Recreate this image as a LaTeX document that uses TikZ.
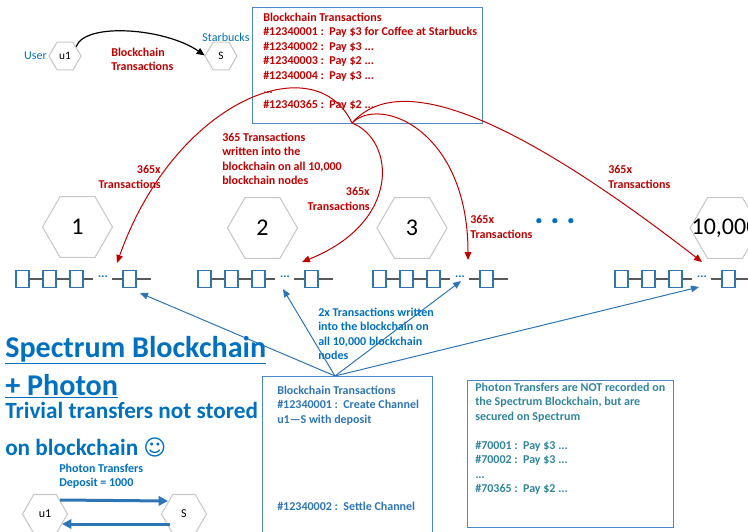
\documentclass[tikz,border=0pt]{standalone}
\usepackage{fontspec}
\setmainfont{Carlito}
\newfontfamily\symfont{DejaVu Sans}
\usetikzlibrary{shapes.geometric,arrows.meta}
\definecolor{tred}{HTML}{C00000}
\definecolor{tblue}{HTML}{0070C0}
\definecolor{lblue}{HTML}{2E75B6}
\definecolor{boxblue}{HTML}{4A8ACB}
\definecolor{tealtxt}{HTML}{31859C}
\definecolor{hexgray}{HTML}{C8C8C8}
\definecolor{chaingray}{HTML}{595959}
\begin{document}
\begin{tikzpicture}[x=0.75pt,y=-0.75pt,
  hexs/.style={regular polygon, regular polygon sides=6, draw=hexgray, line width=0.8pt, minimum size=24pt, inner sep=0pt, font=\fontsize{8.5}{10}\selectfont},
  hexm/.style={hexs, minimum size=33.75pt, font=\fontsize{9}{10}\selectfont},
  hexb/.style={hexs, minimum size=52.5pt, fill=white},
  hexlabel/.style={font=\fontsize{18}{20}\selectfont},
  blk/.style={rectangle, draw=lblue, line width=1pt, fill=white, minimum width=9.75pt, minimum height=12.75pt, inner sep=0pt},
  chainln/.style={draw=chaingray, line width=0.9pt},
  chdots/.style={text=tblue, font=\bfseries\fontsize{9}{10}\selectfont, inner sep=0pt},
  redtxt/.style={text=tred, font=\bfseries\fontsize{9}{10.9}\selectfont, inner sep=0pt},
  bluetxt/.style={text=tblue, font=\bfseries\fontsize{9}{10.9}\selectfont, inner sep=0pt, align=left, anchor=north west},
  redarr/.style={draw=tred, line width=0.75pt, -{Triangle[length=6pt,width=5pt]}},
  bluearr/.style={draw=lblue, line width=0.75pt, -{Triangle[length=6pt,width=5pt]}},
  thickarr/.style={draw=lblue, line width=2.25pt, -{Triangle[length=7pt,width=7pt]}},
  boxn/.style={rectangle, draw=boxblue, line width=1pt, inner sep=0pt, anchor=north west},
  title/.style={text=tblue, font=\bfseries\fontsize{22.6}{26}\selectfont, inner sep=0pt, anchor=base west},
  subtitle/.style={text=tblue, font=\bfseries\fontsize{17.4}{22}\selectfont, inner sep=0pt, anchor=base west}
]
\useasboundingbox (0,0) rectangle (748,531);

% ---------- top: user -> Starbucks ----------
\node[hexs] (u1) at (65,56) {u1};
\node[hexs] (S) at (221,56) {S};
\node[text=tblue, font=\fontsize{9}{10}\selectfont, inner sep=0pt, anchor=east] (userlbl) at (47,56) {User};
\node[text=tblue, font=\fontsize{9}{10}\selectfont, inner sep=0pt] (sblbl) at (226,37) {Starbucks};
\draw[line width=0.9pt, -{Triangle[length=6pt,width=5pt]}] (u1.40) .. controls (85,22) and (165,28) .. (S.178);
\node[redtxt, align=left, anchor=north west] (bctlbl) at (111,47.5) {Blockchain\\Transactions};

% ---------- top transactions box ----------
\node[boxn, minimum width=172.5pt, minimum height=87pt] (topbox) at (252,7) {};
\node[redtxt, align=left, anchor=north west] (toptext) at (263,12.5) {Blockchain Transactions\\
\#12340001 :\ \ Pay \$3 for Coffee at Starbucks\\
\#12340002 :\ \ Pay \$3 ...\\
\#12340003 :\ \ Pay \$2 ...\\
\#12340004 :\ \ Pay \$3 ...\\
...\\
\#12340365 :\ \ Pay \$2 ...};

% ---------- big node hexagons ----------
\node[hexb, label={[hexlabel]center:1}] (h1) at (77.5,227) {};
\node[hexb, label={[hexlabel]center:2}] (h2) at (262.5,228) {};
\node[hexb, label={[hexlabel]center:3}] (h3) at (412,228) {};
\node[hexb, label={[hexlabel]center:{10,000}}] (h4) at (725,228) {};
\node[text=tblue, font=\fontsize{10}{10}\selectfont, inner sep=0pt] (moredots) at (555,222) {$\bullet$\hspace{7pt}$\bullet$\hspace{7pt}$\bullet$};

% ---------- chains ----------
\foreach \c/\sx in {a/16,b/198,c/373,d/615} {
  \coordinate (\c e3) at (\sx+77,279);
  \coordinate (\c s4) at (\sx+96,279);
  \coordinate (\c end) at (\sx+135,279);
  \node[blk] (\c1) at (\sx+6.5,279) {};
  \node[blk] (\c2) at (\sx+33.5,279) {};
  \node[blk] (\c3) at (\sx+60.5,279) {};
  \node[blk] (\c4) at (\sx+113.5,279) {};
  \node[chdots] (\c dots) at (\sx+87,276.5) {...};
  \draw[chainln] (\c1) -- (\c2);
  \draw[chainln] (\c2) -- (\c3);
  \draw[chainln] (\c3) -- (\c e3);
  \draw[chainln] (\c s4) -- (\c4);
  \draw[chainln] (\c4) -- (\c end);
}

% ---------- red arrows ----------
\coordinate (rsrc) at (352,123);
\coordinate (ra1) at (117,263);
\coordinate (ra2) at (302,262);
\coordinate (ra3) at (468,260);
\coordinate (ra4) at (702,262);
\draw[redarr] (rsrc) .. controls (315,45) and (175,100) .. (ra1);
\draw[redarr] (rsrc) .. controls (395,140) and (402,222) .. (ra2);
\draw[redarr] (rsrc) .. controls (380,95) and (468,130) .. (ra3);
\draw[redarr] (rsrc) .. controls (390,80) and (480,90) .. (ra4);

\node[redtxt, align=right, anchor=north east] (r1lbl) at (161,165.5) {365x\\Transactions};
\node[redtxt, align=left, anchor=north west] (r0lbl) at (222,132.5) {365 Transactions\\written into the\\blockchain on all 10,000\\blockchain nodes};
\node[redtxt, align=right, anchor=north east] (r2lbl) at (370,187.5) {365x\\Transactions};
\node[redtxt, align=left, anchor=north west] (r3lbl) at (470,215.5) {365x\\Transactions};
\node[redtxt, align=left, anchor=north west] (r4lbl) at (608,165.5) {365x\\Transactions};

% ---------- blue arrows ----------
\coordinate (bsrc) at (335,376);
\coordinate (ba1) at (140,293);
\coordinate (ba2) at (283,289);
\coordinate (ba3) at (461,281);
\coordinate (ba4) at (699,287);
\draw[bluearr] (bsrc) -- (ba1);
\draw[bluearr] (bsrc) -- (ba2);
\draw[bluearr] (bsrc) -- (ba3);
\draw[bluearr] (bsrc) -- (ba4);
\node[bluetxt] (b2lbl) at (318,307.5) {2x Transactions written\\into the blockchain on\\all 10,000 blockchain\\nodes};

% ---------- title ----------
\node[title] (t1) at (5,357) {\underline{Spectrum Blockchain}};
\node[title] (t2) at (5,395) {\underline{+ Photon}};
\node[subtitle] (t3) at (5,418) {Trivial transfers not stored};
\node[subtitle] (t4) at (5,455) {on blockchain {\symfont\fontsize{16.5}{20}\selectfont ☺}};

% ---------- bottom boxes ----------
\node[boxn, minimum width=127.5pt, minimum height=127pt] (box1) at (262,376) {};
\node[bluetxt, text=lblue] (box1txt) at (277,385.5) {Blockchain Transactions\\
\#12340001 :\ \ Create Channel\\
u1---S with deposit};
\node[bluetxt, text=lblue] (box1txt2) at (277,501.5) {\#12340002 :\ \ Settle Channel};

\node[boxn, minimum width=154.5pt, minimum height=110.25pt] (box2) at (467,380) {};
\node[bluetxt, text=tealtxt] (box2txt) at (475,382.5) {Photon Transfers are NOT recorded on\\
the Spectrum Blockchain, but are\\
secured on Spectrum\\[10.9pt]
\#70001 :\ \ Pay \$3 ...\\
\#70002 :\ \ Pay \$3 ...\\
...\\
\#70365 :\ \ Pay \$2 ...};

% ---------- photon channel ----------
\node[bluetxt] (ptlbl) at (59,463.5) {Photon Transfers\\Deposit = 1000};
\node[hexm] (bu1) at (45,514) {u1};
\node[hexm] (bS) at (184,514) {S};
\coordinate (pt1) at (60,500);
\coordinate (pt2) at (168,501);
\coordinate (pt3) at (170,524);
\coordinate (pt4) at (62,524);
\draw[thickarr] (pt1) -- (pt2);
\draw[thickarr] (pt3) -- (pt4);
\end{tikzpicture}
\end{document}
